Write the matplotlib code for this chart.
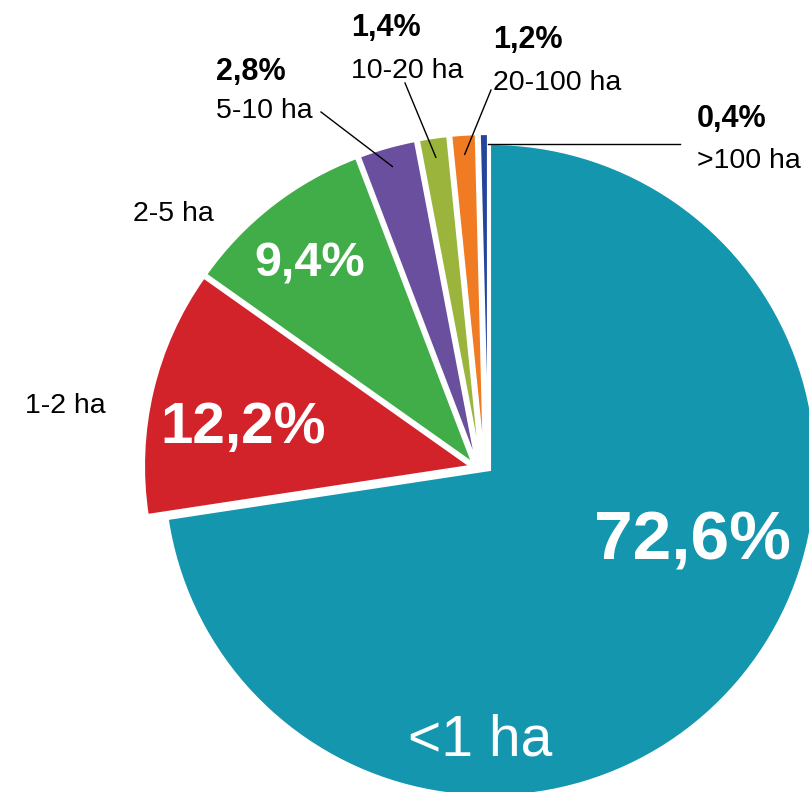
import numpy as np
import matplotlib.pyplot as plt

plt.rcParams['font.family'] = ['Liberation Sans', 'DejaVu Sans']

# farm size classes and their share of holdings (%)
classes = ['<1 ha', '1-2 ha', '2-5 ha', '5-10 ha', '10-20 ha', '20-100 ha', '>100 ha']
shares = [72.6, 12.2, 9.4, 2.8, 1.4, 1.2, 0.4]
colors = ['#1496ae', '#d2232a', '#41ad49', '#6a4f9e', '#9bb53c', '#f07b22', '#24459a']

W, H = 809, 792          # canvas in pixels, data units = pixels (y up)
R = 326                  # pie radius
GAP = 4.0                # white gap between the small slices
TEAL_CENTER = (490, H - 470)
RED_CENTER = (470, H - 466)


def sy(y):
    # screen y (from top) -> data y
    return H - y


def pct(v):
    return f"{v:.1f}".replace('.', ',') + '%'


fig = plt.figure(figsize=(W / 100, H / 100), dpi=100)
ax = fig.add_axes([0, 0, 1, 1])

wedges, _ = ax.pie(shares, colors=colors, startangle=90, counterclock=False,
                   radius=R, center=RED_CENTER,
                   wedgeprops=dict(edgecolor='white', linewidth=1.5))

# start angle (math degrees) of every slice, going clockwise from 12 o'clock
starts = 90 - 3.6 * (np.cumsum(shares) - np.array(shares))
mids = starts - 1.8 * np.array(shares)

# big slice pulled out on its own, the others pushed apart by the gaps
centers = [np.array(TEAL_CENTER, float), np.array(RED_CENTER, float)]
for i in range(2, len(shares)):
    b = np.radians(starts[i] - 90)
    centers.append(centers[-1] + GAP * np.array([np.cos(b), np.sin(b)]))
for w, c in zip(wedges, centers):
    w.set_center(tuple(c))

ax.set_xlim(0, W)
ax.set_ylim(0, H)
ax.set_aspect('equal')
ax.axis('off')

# values inside the big slices (white)
inner = {0: (693, 560, 50), 1: (243, 443, 42), 2: (310, 277, 35)}
for i, (x, y, fs) in inner.items():
    ax.text(x, sy(y), pct(shares[i]), color='white', fontsize=fs,
            fontweight='bold', ha='center', va='baseline')
ax.text(480, sy(755), classes[0], color='white', fontsize=41,
        ha='center', va='baseline')

# class names next to the pie
ax.text(25, sy(413), classes[1], fontsize=20.5, va='baseline')
ax.text(133, sy(221), classes[2], fontsize=20.5, va='baseline')

# small slices: value + class name, with a leader line
outer = {3: (216, 80, 118), 4: (351, 36, 78), 5: (493, 48, 90), 6: (697, 127, 168)}
for i, (x, y_pct, y_cls) in outer.items():
    ax.text(x, sy(y_pct), pct(shares[i]), fontsize=22, fontweight='bold',
            va='baseline')
    ax.text(x, sy(y_cls), classes[i], fontsize=20.5, va='baseline')

leader_start = {3: (321, 112), 4: (405, 83), 5: (491, 90)}
for i, (x0, y0) in leader_start.items():
    a = np.radians(mids[i])
    end = centers[i] + 0.94 * R * np.array([np.cos(a), np.sin(a)])
    ax.plot([x0, end[0]], [sy(y0), end[1]], color='black', lw=1)

# >100 ha: horizontal leader from the thin slice
a = np.radians(starts[6] - 3.6 * shares[6])
end = centers[6] + 0.97 * R * np.array([np.cos(a), np.sin(a)])
ax.plot([end[0], 680], [end[1], end[1]], color='black', lw=1)

fig.savefig('out.png', dpi=100)
